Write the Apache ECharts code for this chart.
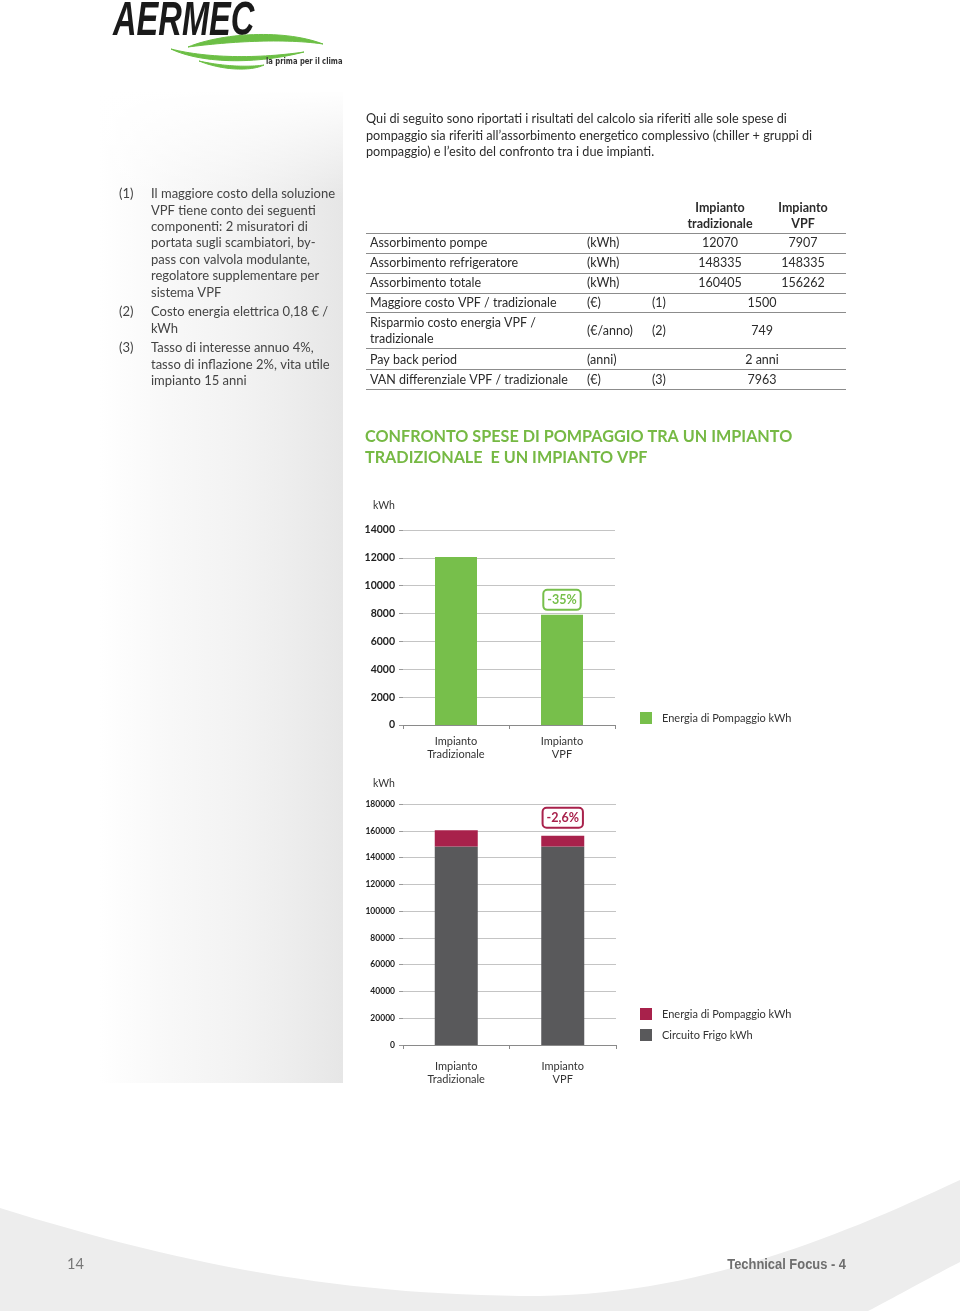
<!DOCTYPE html>
<html>
<head>
<meta charset="utf-8">
<script src="https://cdn.jsdelivr.net/npm/echarts@6/dist/echarts.min.js"></script>
<style>
html,body{margin:0;padding:0;background:#fff;}
#page{width:960px;height:1311px;}
</style>
</head>
<body>
<div id="page"></div>
<script>
// ---------- DATA ----------
const categories = ['Impianto\nTradizionale', 'Impianto\nVPF'];
const pumpEnergy = [12070, 7907];          // Energia di Pompaggio kWh
const chillerEnergy = [148335, 148335];    // Circuito Frigo kWh
const diffLabels = ['-35%', '-2,6%'];
const pumpAxis = { min: 0, max: 14000, interval: 2000 };
const totalAxis = { min: 0, max: 180000, interval: 20000 };
const seriesNames = ['Energia di Pompaggio kWh', 'Circuito Frigo kWh'];

const tableHeaders = ['Impianto\ntradizionale', 'Impianto\nVPF'];
const tableLabels = ['Assorbimento pompe', 'Assorbimento refrigeratore', 'Assorbimento totale',
  'Maggiore costo VPF / tradizionale', 'Risparmio costo energia VPF /\ntradizionale',
  'Pay back period', 'VAN differenziale VPF / tradizionale'];
const tableUnits = ['(kWh)', '(kWh)', '(kWh)', '(€)', '(€/anno)', '(anni)', '(€)'];
const tableNotes = ['', '', '', '(1)', '(2)', '', '(3)'];
const tableTrad = ['12070', '148335', '160405'];
const tableVPF = ['7907', '148335', '156262'];
const tableMerged = [null, null, null, '1500', '749', '2 anni', '7963'];

const introLines = [
  'Qui di seguito sono riportati i risultati del calcolo sia riferiti alle sole spese di',
  'pompaggio sia riferiti all’assorbimento energetico complessivo (chiller + gruppi di',
  'pompaggio) e l’esito del confronto tra i due impianti.'
];
const notes = [
  { n: '(1)', lines: ['Il maggiore costo della soluzione', 'VPF tiene conto dei seguenti', 'componenti: 2 misuratori di',
    'portata sugli scambiatori, by-', 'pass con valvola modulante,', 'regolatore supplementare per', 'sistema VPF'] },
  { n: '(2)', lines: ['Costo energia elettrica 0,18 € /', 'kWh'] },
  { n: '(3)', lines: ['Tasso di interesse annuo 4%,', 'tasso di inflazione 2%, vita utile', 'impianto 15 anni'] }
];
const titleLines = ['CONFRONTO SPESE DI POMPAGGIO TRA UN IMPIANTO', 'TRADIZIONALE  E UN IMPIANTO VPF'];

// ---------- STYLE ----------
const GREEN = '#77bf4b', RED = '#a8214b', GRAY = '#59595b';
const FONT = 'Lato, "Open Sans", sans-serif';
const TXT = '#2b2b2b';

const g = [];
function txt(x, y, s, o) {
  o = o || {};
  g.push({ type: 'text', x: x, y: y, silent: true, z: o.z || 10, scaleX: o.sx || 1,
    style: { text: s, fill: o.fill || TXT, fontSize: o.size || 13, fontFamily: o.family || FONT,
      fontWeight: o.weight || 'normal', fontStyle: o.style || 'normal', textAlign: o.align || 'left',
      textVerticalAlign: 'middle', lineHeight: o.lh || 16 } });
}
function hline(x1, x2, y, c) {
  g.push({ type: 'line', silent: true, z: 5, shape: { x1: x1, y1: y, x2: x2, y2: y }, style: { stroke: c || '#8c8c8c', lineWidth: 1 } });
}
// sample a cubic bezier into points (decoration only)
function bez(p0, p1, p2, p3, n) {
  const pts = [];
  for (let i = 0; i <= n; i++) {
    const t = i / n, u = 1 - t;
    pts.push([u * u * u * p0[0] + 3 * u * u * t * p1[0] + 3 * u * t * t * p2[0] + t * t * t * p3[0],
              u * u * u * p0[1] + 3 * u * u * t * p1[1] + 3 * u * t * t * p2[1] + t * t * t * p3[1]]);
  }
  return pts;
}
function shapeFrom(segs) { let pts = []; segs.forEach(function (s) { pts = pts.concat(bez(s[0], s[1], s[2], s[3], 30)); }); return pts; }

// left gradient panel
g.push({ type: 'rect', silent: true, z: 0, shape: { x: 100, y: 92, width: 243, height: 991 },
  style: { fill: new echarts.graphic.LinearGradient(0, 0, 1, 0, [
    { offset: 0, color: 'rgba(234,234,234,0)' }, { offset: 0.55, color: 'rgba(238,238,238,0.7)' }, { offset: 1, color: '#e6e6e6' }]) } });
g.push({ type: 'rect', silent: true, z: 1, shape: { x: 100, y: 90, width: 245, height: 110 },
  style: { fill: new echarts.graphic.LinearGradient(0, 0, 0, 1, [
    { offset: 0, color: '#ffffff' }, { offset: 1, color: 'rgba(255,255,255,0)' }]) } });

// footer swoosh
const footPts = shapeFrom([
  [[0, 1208], [180, 1264], [340, 1296], [540, 1296]],
  [[540, 1296], [700, 1294], [840, 1236], [960, 1180]]
]).concat([[960, 1262]]).concat(bez([960, 1262], [925, 1280], [895, 1297], [868, 1311], 20)).concat([[0, 1311]]);
g.push({ type: 'polygon', silent: true, z: 0, shape: { points: footPts }, style: { fill: '#ededed' } });

// logo
txt(113, 22, 'AERMEC', { size: 48, weight: 'bold', style: 'italic', family: '"Liberation Sans", Arial, sans-serif', fill: '#1a1a1a', sx: 0.68 });
[
  [[[188, 47], [222, 33], [284, 29], [323, 44]], [[323, 44], [282, 38], [226, 42], [188, 47]]],
  [[[171, 49], [200, 63], [254, 65], [304, 52]], [[304, 52], [256, 59], [206, 58], [171, 49]]],
  [[[199, 61], [224, 71], [252, 71], [264, 65]], [[264, 65], [250, 67], [226, 67], [199, 61]]]
].forEach(function (s) {
  g.push({ type: 'polygon', silent: true, z: 10, shape: { points: shapeFrom(s) }, style: { fill: '#6cbf45', stroke: '#6cbf45', lineWidth: 1 } });
});
txt(266, 62, 'la prima per il clima', { size: 8, weight: 'bold', fill: '#333', family: '"DejaVu Sans", sans-serif', sx: 0.85 });

// intro paragraph
introLines.forEach(function (l, i) { txt(366, 119 + i * 16.5, l, { size: 12.7 }); });

// footnotes
let ny = 194;
notes.forEach(function (n, k) {
  if (k === 1) ny = 312; if (k === 2) ny = 348;
  txt(119, ny, n.n, { size: 13, fill: '#444' });
  n.lines.forEach(function (l, i) { txt(151, ny + i * 16.4, l, { size: 13, fill: '#444' }); });
});

// table
txt(720, 216, tableHeaders[0], { size: 12.5, weight: 'bold', align: 'center', lh: 16 });
txt(803, 216, tableHeaders[1], { size: 12.5, weight: 'bold', align: 'center', lh: 16 });
const rowY = [243, 263, 283, 303, 331, 360, 380];
const rowLines = [233.5, 253.5, 273.5, 293.5, 312.5, 348.5, 369.5, 389.5];
rowLines.forEach(function (y) { hline(366, 846, y); });
tableLabels.forEach(function (l, i) {
  txt(370, rowY[i], l, { size: 12.5, lh: 16 });
  txt(587, rowY[i], tableUnits[i], { size: 12.5 });
  if (tableNotes[i]) txt(652, rowY[i], tableNotes[i], { size: 12.5 });
  if (tableMerged[i]) txt(762, rowY[i], tableMerged[i], { size: 12.5, align: 'center' });
  else { txt(720, rowY[i], tableTrad[i], { size: 12.5, align: 'center' }); txt(803, rowY[i], tableVPF[i], { size: 12.5, align: 'center' }); }
});

// section title
titleLines.forEach(function (l, i) { txt(365, 437 + i * 21, l, { size: 16.2, weight: 'bold', fill: '#76b944' }); });

// axis units
txt(384, 506, 'kWh', { size: 10.5, align: 'center', fill: '#333' });
txt(384, 784, 'kWh', { size: 10.5, align: 'center', fill: '#333' });

// footer text
txt(67, 1264, '14', { size: 14.5, fill: '#777' });
txt(846, 1265, 'Technical Focus - 4', { size: 15, weight: 'bold', fill: '#6e6e6e', align: 'right', family: '"Liberation Sans", sans-serif', sx: 0.86 });

// ---------- CHART ----------
function boxLabel(text, color, dist) {
  return { show: true, position: 'top', distance: dist, formatter: text, color: color, fontSize: 12.5, fontWeight: 'bold',
    fontFamily: FONT, backgroundColor: '#fff', borderColor: color, borderWidth: 2, borderRadius: 3, padding: [3, 3, 2, 3] };
}
function xAxisBase(idx, margin) {
  return {
    type: 'category', gridIndex: idx, data: categories,
    axisLine: { lineStyle: { color: '#8a8a8a' } },
    axisTick: { show: true, length: 4, lineStyle: { color: '#8a8a8a' } },
    axisLabel: { fontSize: 11, color: '#333', lineHeight: 13, margin: margin, fontFamily: FONT }
  };
}
function yAxisBase(idx, ax, fs) {
  return { type: 'value', gridIndex: idx, min: ax.min, max: ax.max, interval: ax.interval,
    axisLine: { show: false }, axisTick: { show: true, length: 4, lineStyle: { color: '#999' } },
    splitLine: { lineStyle: { color: '#c4c4c4' } },
    axisLabel: { fontSize: fs, fontWeight: 'bold', color: '#222', margin: 8, fontFamily: FONT,
      formatter: function (v) { return String(v); } } };
}
const legendText = { fontSize: 11, color: '#333', fontFamily: FONT, padding: [0, 0, 0, 5] };

const option = {
  backgroundColor: '#fff',
  animation: false,
  graphic: { elements: g },
  grid: [
    { left: 403, top: 530, width: 212, height: 195 },
    { left: 403, top: 804, width: 213, height: 241 }
  ],
  xAxis: [xAxisBase(0, 10), xAxisBase(1, 15)],
  yAxis: [yAxisBase(0, pumpAxis, 10.5), yAxisBase(1, totalAxis, 8.5)],
  legend: [
    { left: 640, top: 712, padding: 0, selectedMode: false, itemWidth: 12, itemHeight: 12, icon: 'rect',
      textStyle: legendText, data: [{ name: seriesNames[0], itemStyle: { color: GREEN } }] },
    { left: 640, top: 1008, padding: 0, orient: 'vertical', itemGap: 9, selectedMode: false, itemWidth: 12, itemHeight: 12, icon: 'rect',
      textStyle: legendText,
      data: [{ name: seriesNames[0], itemStyle: { color: RED } }, { name: seriesNames[1], itemStyle: { color: GRAY } }] }
  ],
  series: [
    { type: 'bar', id: 'pump1', name: seriesNames[0], xAxisIndex: 0, yAxisIndex: 0, barWidth: 42,
      itemStyle: { color: GREEN },
      data: pumpEnergy.map(function (v, i) { return i === 1 ? { value: v, label: boxLabel(diffLabels[0], GREEN, 6) } : v; }) },
    { type: 'bar', id: 'chiller', name: seriesNames[1], xAxisIndex: 1, yAxisIndex: 1, barWidth: 43, stack: 'tot',
      itemStyle: { color: GRAY }, data: chillerEnergy },
    { type: 'bar', id: 'pump2', name: seriesNames[0], xAxisIndex: 1, yAxisIndex: 1, barWidth: 43, stack: 'tot',
      itemStyle: { color: RED },
      data: pumpEnergy.map(function (v, i) { return i === 1 ? { value: v, label: boxLabel(diffLabels[1], RED, 9) } : v; }) }
  ]
};
const chart = echarts.init(document.getElementById('page'), null, { renderer: 'canvas', width: 960, height: 1311 });
chart.setOption(option);
</script>
</body>
</html>
